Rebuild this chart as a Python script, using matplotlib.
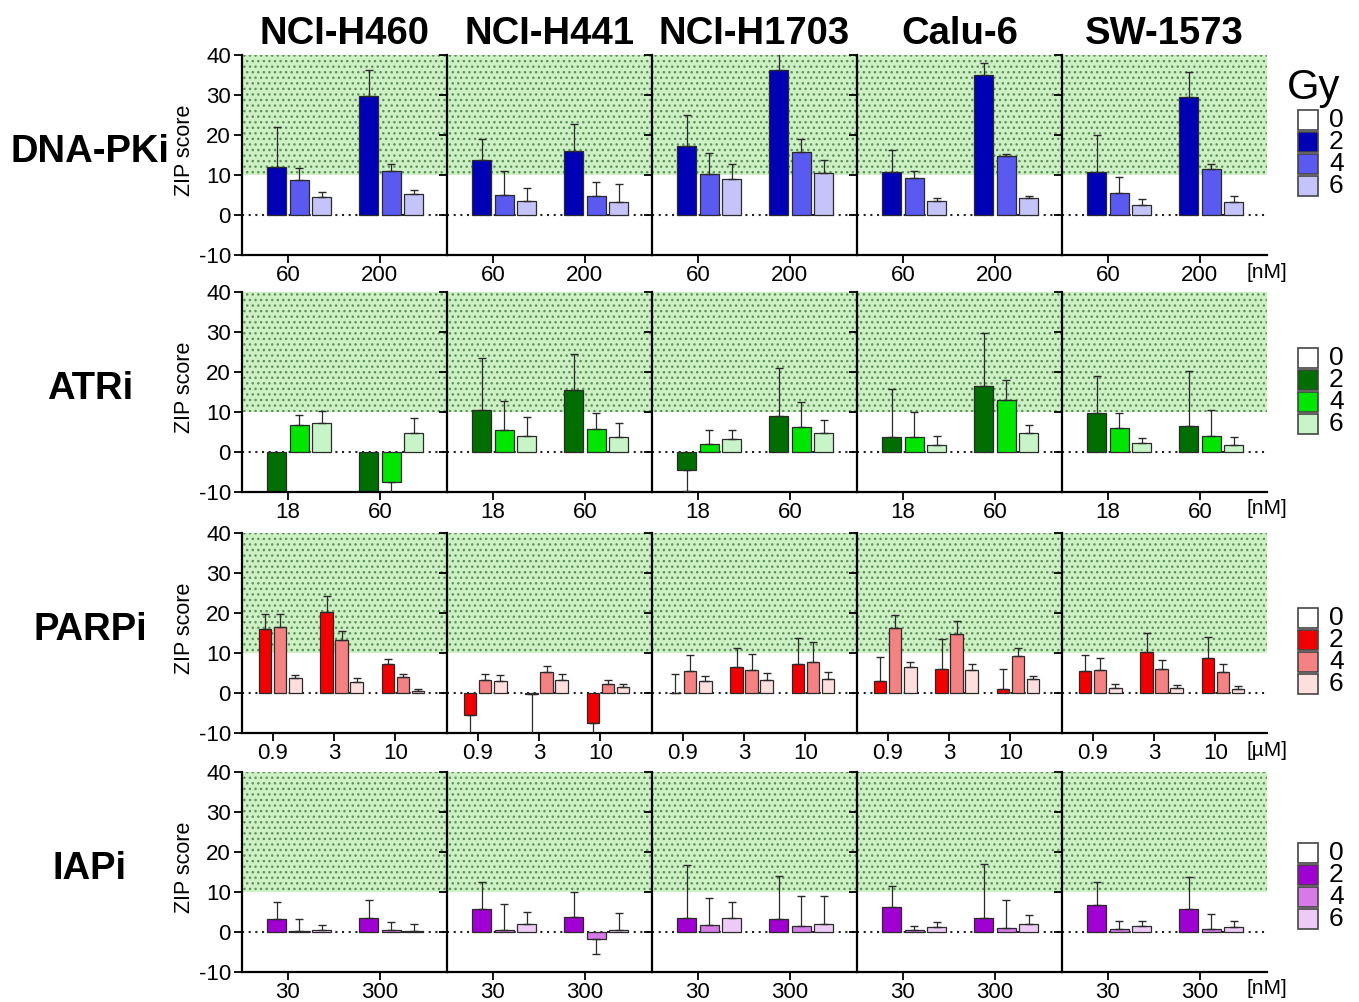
import numpy as np
import matplotlib
matplotlib.use("Agg")
import matplotlib.pyplot as plt
from matplotlib.patches import Rectangle

plt.rcParams["font.family"] = ["Liberation Sans", "DejaVu Sans"]
plt.rcParams["axes.unicode_minus"] = False

CELL_LINES = ["NCI-H460", "NCI-H441", "NCI-H1703", "Calu-6", "SW-1573"]
DRUGS = ["DNA-PKi", "ATRi", "PARPi", "IAPi"]
DOSES_GY = ["0", "2", "4", "6"]
DNAPK_CONC = ["60", "200"]
ATR_CONC = ["18", "60"]
PARP_CONC = ["0.9", "3", "10"]
IAP_CONC = ["30", "300"]
UNITS = ["[nM]", "[nM]", "[µM]", "[nM]"]

# ZIP score per cell line; for each concentration the 2, 4, 6 Gy bars (0 Gy bar is 0)
DNAPK_MEAN = [[12.1, 8.7, 4.4, 29.7, 10.9, 5.2],
              [13.7, 4.9, 3.4, 16.0, 4.8, 3.3],
              [17.2, 10.2, 8.9, 36.2, 15.8, 10.4],
              [10.7, 9.3, 3.6, 35.0, 14.8, 4.3],
              [10.8, 5.5, 2.5, 29.6, 11.4, 3.3]]
DNAPK_SD = [[10.0, 3.1, 1.4, 6.5, 1.8, 1.0],
            [5.2, 6.1, 3.3, 6.8, 3.5, 4.4],
            [7.7, 5.4, 3.9, 5.5, 3.1, 3.3],
            [5.6, 1.7, 0.6, 2.9, 0.4, 0.4],
            [9.1, 4.1, 1.4, 6.2, 1.4, 1.4]]

ATR_MEAN = [[-12.0, 6.8, 7.3, -12.0, -7.5, 4.7],
            [10.5, 5.5, 4.0, 15.5, 5.8, 3.8],
            [-4.6, 1.9, 3.2, 9.0, 6.3, 4.7],
            [3.7, 3.7, 1.7, 16.5, 12.9, 4.8],
            [9.8, 5.9, 2.3, 6.4, 4.1, 1.8]]
ATR_SD = [[3.0, 2.4, 3.0, 3.0, 3.5, 3.7],
          [13.1, 7.3, 4.8, 9.0, 4.0, 3.4],
          [5.2, 3.6, 2.2, 12.1, 6.2, 3.3],
          [12.1, 6.3, 2.3, 13.2, 5.1, 1.9],
          [9.2, 3.8, 1.3, 13.9, 6.4, 1.9]]

PARP_MEAN = [[16.0, 16.4, 3.7, 20.3, 13.2, 2.8, 7.2, 3.9, 0.6],
             [-5.4, 3.2, 3.0, -0.3, 5.3, 3.3, -7.5, 2.3, 1.5],
             [0.1, 5.4, 2.9, 6.4, 5.8, 3.3, 7.3, 7.8, 3.6],
             [3.0, 16.3, 6.5, 6.0, 14.8, 5.8, 1.0, 9.3, 3.5],
             [5.5, 5.8, 1.3, 10.3, 6.0, 1.3, 8.7, 5.2, 1.0]]
PARP_SD = [[3.8, 3.4, 0.9, 4.0, 2.4, 0.9, 1.3, 0.9, 0.4],
           [5.0, 1.6, 1.4, 10.5, 1.4, 1.4, 3.0, 1.0, 0.8],
           [4.7, 4.2, 1.4, 4.9, 4.0, 1.6, 6.4, 4.9, 1.6],
           [6.0, 3.3, 1.3, 7.6, 3.2, 1.5, 5.1, 1.9, 0.7],
           [4.0, 3.0, 1.0, 4.7, 2.2, 0.8, 5.2, 2.1, 0.7]]

IAP_MEAN = [[3.3, 0.2, 0.4, 3.5, 0.4, 0.3],
            [5.7, 0.4, 2.0, 3.8, -1.8, 0.6],
            [3.4, 1.7, 3.5, 3.2, 1.5, 2.1],
            [6.2, 0.4, 1.3, 3.4, 1.1, 2.1],
            [6.7, 0.7, 1.5, 5.8, 0.7, 1.2]]
IAP_SD = [[4.2, 3.1, 1.3, 4.6, 2.2, 1.6],
          [6.8, 6.5, 3.1, 6.3, 3.8, 4.2],
          [13.4, 6.8, 3.9, 10.9, 7.4, 6.8],
          [5.2, 1.1, 1.2, 13.7, 6.8, 2.2],
          [5.9, 2.0, 1.2, 8.0, 3.8, 1.6]]

CONCS = [DNAPK_CONC, ATR_CONC, PARP_CONC, IAP_CONC]
MEANS = [DNAPK_MEAN, ATR_MEAN, PARP_MEAN, IAP_MEAN]
SDS = [DNAPK_SD, ATR_SD, PARP_SD, IAP_SD]
COLORS = [["white", "#0000b4", "#5a5af0", "#c4c4fa"],
          ["white", "#006e00", "#00e600", "#c8f5c8"],
          ["white", "#f00000", "#f48282", "#ffdede"],
          ["white", "#a000d2", "#d67ae8", "#eecbf6"]]

# --- layout in pixels --------------------------------------------------------------------
W, H = 1359, 1002
COL_X = [242, 447, 652, 857, 1062]
ROW_TOP = [55, 292, 533, 772]
AX_W, AX_H = 205, 200
STEP, BAR_W = 0.245, 0.205
EDGE = "#2a2a2a"

fig = plt.figure(figsize=(W / 100, H / 100), dpi=100)

for r, drug in enumerate(DRUGS):
    conc = CONCS[r]
    n = len(conc)
    for c, cell in enumerate(CELL_LINES):
        ax = fig.add_axes([COL_X[c] / W, 1 - (ROW_TOP[r] + AX_H) / H, AX_W / W, AX_H / H])
        ax.axhspan(10, 40, facecolor="#cdf0c4", edgecolor="#5f8f5a", hatch="...", lw=0, zorder=0)
        ax.axhline(0, color="#222222", ls=(0, (1, 2.2)), lw=1.5, zorder=1)
        m = np.array(MEANS[r][c]).reshape(n, 3)
        s = np.array(SDS[r][c]).reshape(n, 3)
        xg = np.arange(n)
        for k in range(3):
            x = xg + (k - 0.5) * STEP
            ax.bar(x, m[:, k], width=BAR_W, color=COLORS[r][k + 1], edgecolor=EDGE,
                   lw=0.9, zorder=2)
            lo = np.where(m[:, k] < 0, s[:, k], 0)
            hi = np.where(m[:, k] >= 0, s[:, k], 0)
            ax.errorbar(x, m[:, k], yerr=[lo, hi], fmt="none", ecolor=EDGE, elinewidth=0.9,
                        capsize=3, capthick=1, zorder=3)
        ax.set_ylim(-10, 40)
        ax.set_xlim(-0.5, n - 0.27 if n == 2 else n - 0.16)
        ax.set_yticks([-10, 0, 10, 20, 30, 40])
        ax.set_xticks(xg)
        ax.set_xticklabels(conc, fontsize=16)
        for sp in ["top", "right"]:
            ax.spines[sp].set_visible(False)
        for sp in ["left", "bottom"]:
            ax.spines[sp].set_linewidth(1.6)
        ax.tick_params(axis="both", direction="out", length=6, width=1.3, pad=2)
        ax.tick_params(axis="x", pad=1)
        ax.tick_params(axis="y", labelsize=16)
        ax.patch.set_alpha(0)
        if c == 0:
            ax.set_ylabel("ZIP score", fontsize=15.5)
            ax.yaxis.set_label_coords(-0.228, 0.525)
        else:
            ax.set_yticklabels([])
        if r == 0:
            ax.set_title(cell, fontsize=27.5, fontweight="bold", pad=8)

    # row label
    fig.text(90 / W, 1 - (ROW_TOP[r] + 97) / H, drug, fontsize=27.5, fontweight="bold",
             ha="center", va="center")
    # concentration unit
    fig.text(1247 / W, 1 - (ROW_TOP[r] + 217) / H, UNITS[r], fontsize=15,
             ha="left", va="center")
    # legend
    leg_y0 = [120, 358, 618, 853][r]
    for i, lab in enumerate(DOSES_GY):
        yc = leg_y0 + 22 * i
        fig.add_artist(Rectangle((1298 / W, 1 - (yc + 10) / H), 20 / W, 20 / H,
                                 transform=fig.transFigure, facecolor=COLORS[r][i],
                                 edgecolor="#444444", lw=1.2))
        fig.text(1329 / W, 1 - yc / H, lab, fontsize=19, ha="left", va="center")

fig.text(1314 / W, 1 - 88 / H, "Gy", fontsize=30, ha="center", va="center")

fig.savefig("out.png", dpi=100)
